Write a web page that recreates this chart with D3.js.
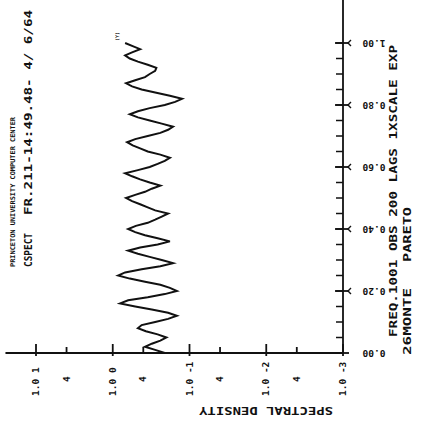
<!DOCTYPE html>
<html>
<head>
<meta charset="utf-8">
<script src="https://cdn.jsdelivr.net/npm/d3@7"></script>
<style>
  body { margin: 0; background: #fff; }
  text { font-family: "DejaVu Sans Mono", monospace; font-weight: bold; fill: #111; }
</style>
</head>
<body>
<div id="chart"></div>
<script>
var width = 434,
    height = 441;

// frequency steps 0.00 .. 1.00
var freq = d3.range(0, 101).map(function(i) { return i / 100; });
// spectral density
var density = [
  0.21, 0.28, 0.38, 0.31, 0.24, 0.20, 0.26, 0.37, 0.47, 0.42,
  0.28, 0.19, 0.146, 0.19, 0.31, 0.51, 0.80, 0.63, 0.35, 0.21,
  0.146, 0.18, 0.24, 0.38, 0.60, 0.85, 0.69, 0.42, 0.24, 0.164,
  0.23, 0.33, 0.47, 0.63, 0.44, 0.26, 0.18, 0.26, 0.38, 0.51,
  0.63, 0.50, 0.35, 0.28, 0.23, 0.19, 0.28, 0.35, 0.44, 0.56,
  0.67, 0.51, 0.38, 0.31, 0.24, 0.33, 0.44, 0.56, 0.69, 0.47,
  0.33, 0.26, 0.21, 0.18, 0.24, 0.35, 0.44, 0.55, 0.65, 0.51,
  0.35, 0.24, 0.19, 0.164, 0.23, 0.33, 0.47, 0.60, 0.47, 0.33,
  0.21, 0.154, 0.125, 0.18, 0.28, 0.42, 0.56, 0.67, 0.51, 0.38,
  0.33, 0.28, 0.27, 0.35, 0.47, 0.60, 0.69, 0.56, 0.44, 0.55,
  0.69
];

var densityMajor = [10, 1, 0.1, 0.01, 0.001];
var densityMajorLabels = ["1.0  1", "1.0  0", "1.0 -1", "1.0 -2", "1.0 -3"];
var densityMinor = [4, 0.4, 0.04, 0.004];
var freqMajor = [0, 0.2, 0.4, 0.6, 0.8, 1.0];
var freqMajorLabels = ["0.00", "0.20", "0.40", "0.60", "0.80", "1.00"];
var freqMinor = d3.range(0, 21).map(function(i) { return i * 0.05; });

var titleTop = "PRINCETON UNIVERSITY COMPUTER CENTER";
var titleProg = "CSPECT";
var titleRun = "FR.211-14:49.48- 4/ 6/64";
var infoLine = "FREQ.1001  OBS 200  LAGS  1XSCALE EXP";
var infoLeft = "26MONTE";
var infoRight = "PARETO";
var axisTitle = "SPECTRAL DENSITY";

var svg = d3.select("#chart")
    .append("svg")
    .attr("width", width)
    .attr("height", height);

// density runs left->right, decreasing (log); frequency runs bottom->top
var x = d3.scaleLog().domain([10, 0.001]).range([36, 343]);
var y = d3.scaleLinear().domain([0, 1]).range([353, 43]);

var ink = "#111";

// axes lines
svg.append("line")
    .attr("x1", x(25)).attr("x2", x(0.001))
    .attr("y1", y(0)).attr("y2", y(0))
    .attr("stroke", ink).attr("stroke-width", 1.8);
svg.append("line")
    .attr("x1", x(0.001)).attr("x2", x(0.001))
    .attr("y1", y(0)).attr("y2", y(1.14))
    .attr("stroke", ink).attr("stroke-width", 1.8);

// density ticks
svg.selectAll(".dmaj")
    .data(densityMajor).enter()
    .append("line")
    .attr("x1", function(d) { return x(d); })
    .attr("x2", function(d) { return x(d); })
    .attr("y1", y(0) - 9).attr("y2", y(0) + 3)
    .attr("stroke", ink).attr("stroke-width", 1.8);
svg.selectAll(".dmin")
    .data(densityMinor).enter()
    .append("line")
    .attr("x1", function(d) { return x(d); })
    .attr("x2", function(d) { return x(d); })
    .attr("y1", y(0) - 6).attr("y2", y(0))
    .attr("stroke", ink).attr("stroke-width", 1.8);

svg.selectAll(".dlab")
    .data(densityMajor).enter()
    .append("text")
    .attr("transform", function(d) { return "translate(" + (x(d) + 3) + "," + 396 + ") rotate(-90)"; })
    .attr("font-size", 9.5)
    .text(function(d, i) { return densityMajorLabels[i]; });
svg.selectAll(".dmlab")
    .data(densityMinor).enter()
    .append("text")
    .attr("transform", function(d) { return "translate(" + (x(d) + 3) + "," + 382 + ") rotate(-90)"; })
    .attr("font-size", 9.5)
    .text("4");

// frequency ticks
svg.selectAll(".fmin")
    .data(freqMinor).enter()
    .append("line")
    .attr("x1", x(0.001) - 7).attr("x2", x(0.001))
    .attr("y1", function(d) { return y(d); })
    .attr("y2", function(d) { return y(d); })
    .attr("stroke", ink).attr("stroke-width", 1.5);
svg.selectAll(".fmaj")
    .data(freqMajor).enter()
    .append("line")
    .attr("x1", x(0.001) - 8).attr("x2", x(0.001) + 6)
    .attr("y1", function(d) { return y(d); })
    .attr("y2", function(d) { return y(d); })
    .attr("stroke", ink).attr("stroke-width", 1.8);
svg.selectAll(".fmark")
    .data(freqMajor.slice(1)).enter()
    .append("path")
    .attr("d", function(d) {
        var cx = x(0.001) + 5, cy = y(d);
        return "M" + (cx + 3) + "," + (cy - 3) + "L" + cx + "," + cy + "L" + (cx + 3) + "," + (cy + 3);
    })
    .attr("fill", "none").attr("stroke", ink).attr("stroke-width", 1.4);

svg.selectAll(".flab")
    .data(freqMajor).enter()
    .append("text")
    .attr("transform", function(d) { return "translate(" + 374 + "," + y(d) + ") rotate(180)"; })
    .attr("text-anchor", "middle")
    .attr("dominant-baseline", "central")
    .attr("font-size", 9.5)
    .text(function(d, i) { return freqMajorLabels[i]; });

// spectrum trace
var line = d3.line()
    .x(function(d) { return x(d[1]); })
    .y(function(d) { return y(d[0]); });

svg.append("path")
    .datum(freq.map(function(f, i) { return [f, density[i]]; }))
    .attr("d", line)
    .attr("fill", "none")
    .attr("stroke", ink)
    .attr("stroke-width", 2)
    .attr("stroke-linejoin", "miter");

svg.append("text")
    .attr("transform", "translate(" + (x(density[100]) - 6) + "," + (y(1) - 2) + ") rotate(-90)")
    .attr("font-size", 5)
    .text("(Y)");

// titles
function vtext(str, cx, y0, y1, size) {
    svg.append("text")
        .attr("transform", "translate(" + cx + "," + y0 + ") rotate(-90)")
        .attr("dominant-baseline", "central")
        .attr("font-size", size)
        .attr("textLength", y0 - y1)
        .attr("lengthAdjust", "spacingAndGlyphs")
        .text(str);
}

vtext(titleTop, 13, 267, 117, 6.5);
vtext(titleProg, 28, 267, 233, 10);
vtext(titleRun, 28, 215, 10, 10);
vtext(infoLine, 393, 337, 45, 11);
vtext(infoLeft, 407, 355, 288, 11);
vtext(infoRight, 407, 262, 207, 11);

svg.append("text")
    .attr("transform", "translate(266,410) rotate(180)")
    .attr("text-anchor", "middle")
    .attr("dominant-baseline", "central")
    .attr("font-size", 11)
    .attr("textLength", 134)
    .attr("lengthAdjust", "spacingAndGlyphs")
    .text(axisTitle);
</script>
</body>
</html>
